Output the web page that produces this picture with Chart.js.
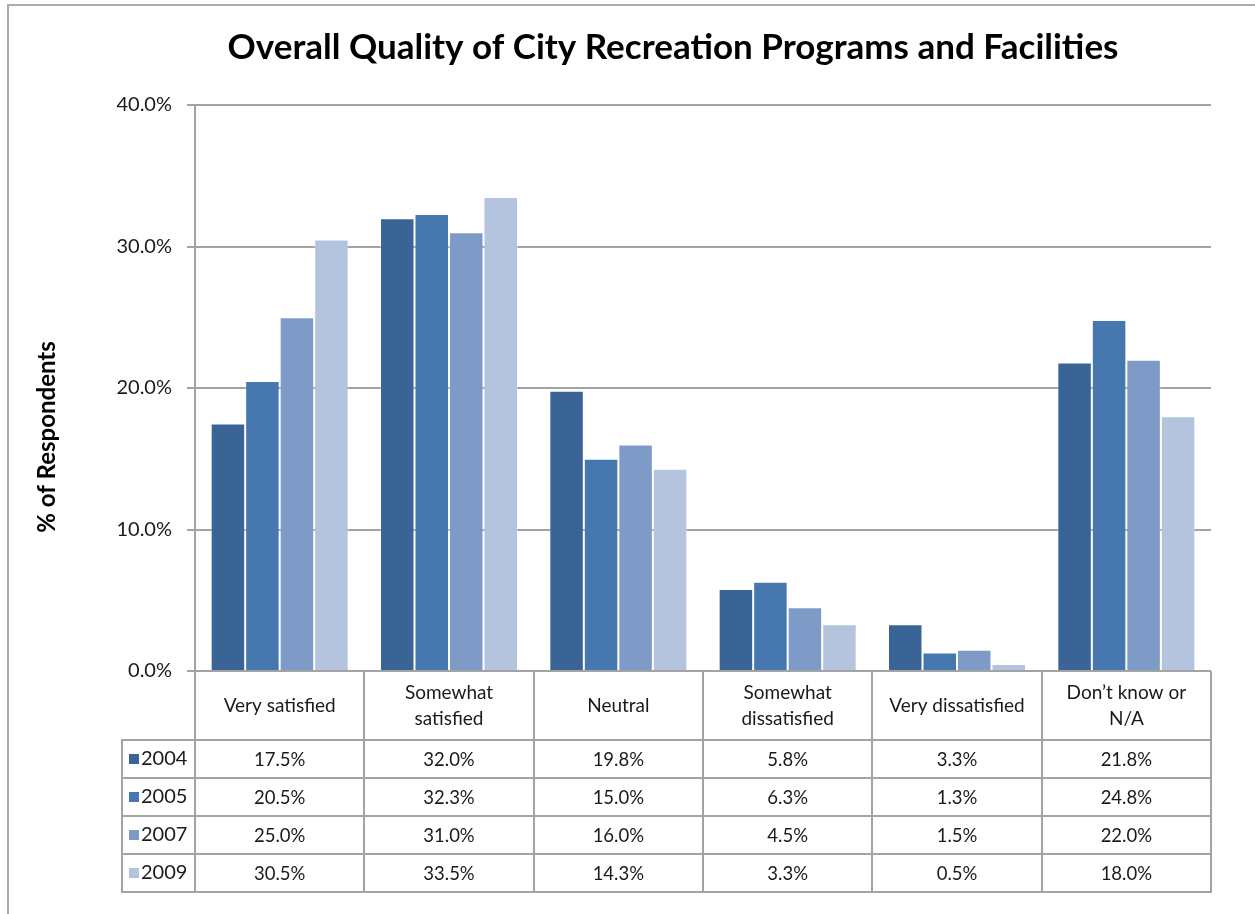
<!DOCTYPE html>
<html>
<head>
<meta charset="utf-8">
<title>Overall Quality of City Recreation Programs and Facilities</title>
<script src="https://cdn.jsdelivr.net/npm/chart.js@4.4.0/dist/chart.umd.min.js"></script>
<style>
  html, body { margin: 0; padding: 0; background: #fff; }
  #wrap { position: relative; width: 1255px; height: 914px; overflow: hidden; }
  #frame { position: absolute; left: 7px; top: 4px; width: 1400px; height: 1000px;
           border-left: 2px solid #ababab; border-top: 2px solid #ababab; pointer-events: none; }
  canvas { position: absolute; left: 0; top: 0; }
</style>
</head>
<body>
<div id="wrap">
  <canvas id="qualityChart" width="1255" height="914"></canvas>
  <div id="frame"></div>
</div>
<script>
  // Chart data
  const chartTitle = 'Overall Quality of City Recreation Programs and Facilities';
  const yTitle = '% of Respondents';
  const categories = [
    ['Very satisfied'],
    ['Somewhat', 'satisfied'],
    ['Neutral'],
    ['Somewhat', 'dissatisfied'],
    ['Very dissatisfied'],
    ['Don\u2019t know or', 'N/A']
  ];
  const years = ['2004', '2005', '2007', '2009'];
  const values2004 = [17.5, 32.0, 19.8, 5.8, 3.3, 21.8];
  const values2005 = [20.5, 32.3, 15.0, 6.3, 1.3, 24.8];
  const values2007 = [25.0, 31.0, 16.0, 4.5, 1.5, 22.0];
  const values2009 = [30.5, 33.5, 14.3, 3.3, 0.5, 18.0];
  const yTicks = [0, 10, 20, 30, 40];

  const seriesValues = [values2004, values2005, values2007, values2009];
  const barColors = ['#3b6496', '#4677af', '#7e9bc8', '#b5c4de']; // dark blue -> pale blue
  const lineColor = '#a3a3a3';
  const textColor = '#1a1a1a';
  const fontFamily = 'Lato, "Open Sans", sans-serif';

  Chart.defaults.font.family = fontFamily;

  // Draws the title, the rotated axis title and the data table under the bars
  const tablePlugin = {
    id: 'dataTable',
    afterDraw(chart) {
      const { ctx, chartArea, scales: { x } } = chart;
      const headerH = 69;
      const rowH = 38;
      const legendLeft = 122;
      const top = chartArea.bottom;
      const rowsTop = top + headerH;
      const bottom = rowsTop + rowH * years.length;

      // column edges sit halfway between category centres
      const edges = [chartArea.left];
      for (let i = 1; i < categories.length; i++) {
        edges.push((x.getPixelForValue(i - 1) + x.getPixelForValue(i)) / 2);
      }
      edges.push(chartArea.right);

      ctx.save();
      ctx.strokeStyle = lineColor;
      ctx.lineWidth = 2;
      ctx.beginPath();
      edges.forEach(ex => {
        const px = Math.round(ex);
        ctx.moveTo(px, top);
        ctx.lineTo(px, bottom);
      });
      ctx.moveTo(legendLeft, rowsTop);
      ctx.lineTo(legendLeft, bottom);
      for (let k = 0; k <= years.length; k++) {
        const py = Math.round(rowsTop + k * rowH);
        ctx.moveTo(legendLeft - 1, py);
        ctx.lineTo(chartArea.right + 1, py);
      }
      ctx.stroke();

      ctx.fillStyle = textColor;
      ctx.textAlign = 'center';
      ctx.textBaseline = 'middle';

      // header row: category names
      ctx.font = '19px ' + fontFamily;
      categories.forEach((lines, i) => {
        const cx = x.getPixelForValue(i);
        const cy = top + headerH / 2;
        const lh = 26;
        lines.forEach((line, j) => {
          ctx.fillText(line, cx, cy + (j - (lines.length - 1) / 2) * lh);
        });
      });

      // value rows
      ctx.font = '18.5px ' + fontFamily;
      seriesValues.forEach((vals, k) => {
        const cy = rowsTop + k * rowH + rowH / 2 + 1;
        vals.forEach((v, i) => {
          ctx.fillText(v.toFixed(1) + '%', x.getPixelForValue(i), cy);
        });
      });

      // legend keys
      ctx.textAlign = 'left';
      ctx.font = '20px ' + fontFamily;
      years.forEach((yr, k) => {
        const cy = rowsTop + k * rowH + rowH / 2;
        ctx.fillStyle = barColors[k];
        ctx.fillRect(legendLeft + 7, cy - 5, 10, 10);
        ctx.fillStyle = textColor;
        ctx.fillText(yr, legendLeft + 19, cy);
      });

      // chart title
      ctx.textAlign = 'center';
      ctx.font = 'bold 35px ' + fontFamily;
      ctx.fillStyle = '#000';
      ctx.fillText(chartTitle, 673, 48);

      // y axis title
      ctx.translate(47, 437);
      ctx.rotate(-Math.PI / 2);
      ctx.font = 'bold 24px ' + fontFamily;
      ctx.fillText(yTitle, 0, 0);
      ctx.restore();
    }
  };

  const ctx = document.getElementById('qualityChart').getContext('2d');
  const qualityChart = new Chart(ctx, {
    type: 'bar',
    data: {
      labels: categories,
      datasets: years.map((yr, k) => ({
        label: yr,
        data: seriesValues[k],
        backgroundColor: barColors[k],
        borderColor: 'rgba(255,255,255,0.25)',
        borderWidth: 1,
        categoryPercentage: 0.815,
        barPercentage: 1.0
      }))
    },
    options: {
      responsive: false,
      animation: false,
      layout: {
        padding: { left: 0, right: 44, top: 105, bottom: 243 }
      },
      plugins: {
        legend: { display: false },
        title: { display: false },
        tooltip: { enabled: false }
      },
      scales: {
        x: {
          display: false
        },
        y: {
          min: yTicks[0],
          max: yTicks[yTicks.length - 1],
          afterFit: (scale) => { scale.width = 195; },
          afterBuildTicks: (scale) => { scale.ticks = yTicks.map(v => ({ value: v })); },
          ticks: {
            padding: 15,
            color: textColor,
            font: { size: 20 },
            callback: (v) => v.toFixed(1) + '%'
          },
          grid: {
            color: lineColor,
            lineWidth: 2,
            tickLength: 8
          },
          border: {
            color: lineColor,
            width: 2
          }
        }
      }
    },
    plugins: [tablePlugin]
  });
</script>
</body>
</html>
